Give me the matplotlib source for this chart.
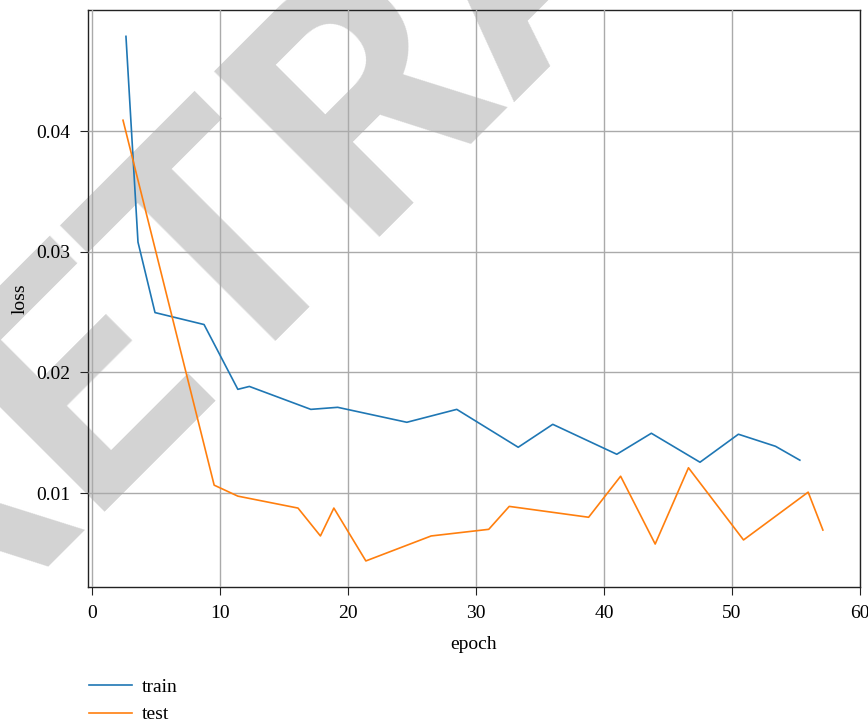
import matplotlib
matplotlib.use("Agg")
import matplotlib.pyplot as plt

# loss curves per epoch
train_epoch = [2.66, 3.6, 4.93, 8.76, 11.4, 12.3, 17.1, 19.2, 24.6, 28.5,
               33.3, 36.0, 41.0, 43.7, 47.5, 50.5, 53.4, 55.3]
train_loss = [0.04785, 0.0308, 0.02496, 0.02397, 0.0186, 0.01884, 0.01694,
              0.01711, 0.01587, 0.01694, 0.0138, 0.0157, 0.01322, 0.01496,
              0.01256, 0.01488, 0.01388, 0.01273]

test_epoch = [2.43, 9.55, 11.4, 16.1, 17.85, 18.9, 21.4, 26.5, 31.0, 32.6,
              38.8, 41.3, 44.0, 46.6, 50.9, 55.95, 57.1]
test_loss = [0.0409, 0.01066, 0.00975, 0.00876, 0.00645, 0.00876, 0.00438,
             0.00645, 0.0070, 0.0089, 0.0080, 0.0114, 0.00578, 0.0121,
             0.00612, 0.01008, 0.00694]

plt.rcParams['font.family'] = ['Liberation Serif', 'DejaVu Serif']
plt.rcParams['font.size'] = 14

fig = plt.figure(figsize=(8.68, 7.24), dpi=100)
ax = fig.add_axes([0.1014, 0.189, 0.8894, 0.797])

# stamp across the figure
ax.text(-0.0737, 0.0884, "RETRACTED", transform=fig.transFigure,
        fontsize=237, fontweight='bold', family='Roboto',
        color='#d3d3d3', rotation=45, rotation_mode='anchor',
        ha='left', va='baseline', clip_on=False, zorder=0.5)

ax.plot(train_epoch, train_loss, color='#1f77b4', lw=1.2, label='train', zorder=3)
ax.plot(test_epoch, test_loss, color='#ff7f0e', lw=1.2, label='test', zorder=3)

ax.set_yticks([0.01, 0.02, 0.03, 0.04])
ax.set_xticks([0, 10, 20, 30, 40, 50, 60])
ax.grid(True, color='#aaaaaa', lw=1.0)
ax.set_axisbelow(False)
for s in ax.spines.values():
    s.set_color('#222222')
    s.set_linewidth(1.0)
ax.tick_params(colors='#222222', labelcolor='black', length=6, pad=7)

ax.set_xlabel('epoch', labelpad=10)
ax.set_ylabel('loss', labelpad=5)

fig.legend(loc='upper left', bbox_to_anchor=(0.103, 0.063), frameon=False,
           handlelength=2.2, handletextpad=0.5, labelspacing=0.5,
           borderaxespad=0, borderpad=0)

fig.savefig('out.png', dpi=100)
